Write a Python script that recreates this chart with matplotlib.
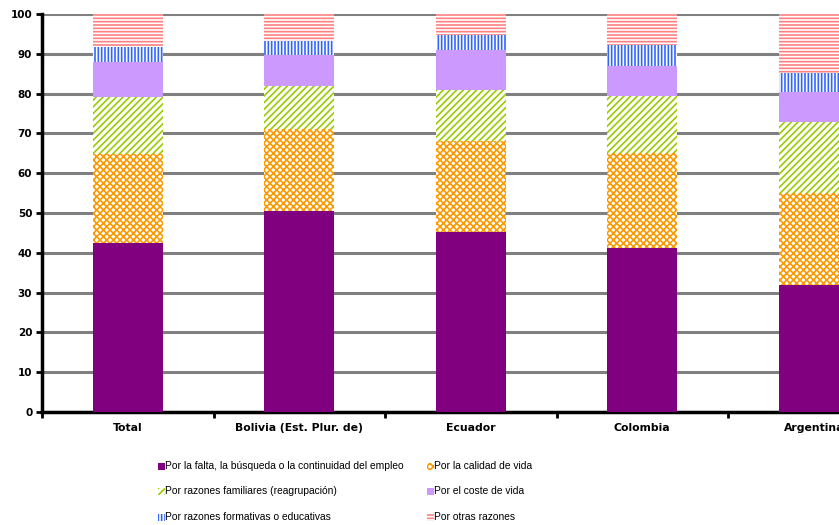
import matplotlib
matplotlib.use("Agg")
import matplotlib.pyplot as plt
from matplotlib.patches import Rectangle
import numpy as np

categories = ["Total", "Bolivia (Est. Plur. de)", "Ecuador", "Colombia", "Argentina"]
series_names = [
    "Por la falta, la búsqueda o la continuidad del empleo",
    "Por la calidad de vida",
    "Por razones familiares (reagrupación)",
    "Por el coste de vida",
    "Por razones formativas o educativas",
    "Por otras razones",
]
empleo = [42.5, 50.5, 45.2, 41.2, 31.9]
calidad = [22.3, 20.6, 22.9, 23.9, 23.1]
familiares = [14.3, 10.8, 12.8, 14.3, 17.9]
coste = [8.8, 7.8, 10.0, 7.5, 7.5]
formativas = [3.8, 3.5, 3.8, 5.3, 4.8]
otras = [8.3, 6.8, 5.3, 7.8, 14.8]
values = [empleo, calidad, familiares, coste, formativas, otras]
y_ticks = [0, 10, 20, 30, 40, 50, 60, 70, 80, 90, 100]

colors = ["#800080", "#FF9900", "#99CC00", "#CC99FF", "#3366FF", "#FF8080"]
hatches = [None, "xxxxx", "/////", None, "|||||", "-----"]

plt.rcParams["hatch.linewidth"] = 1.2

fig = plt.figure(figsize=(8.39, 5.25), dpi=100)
ax = fig.add_axes([42 / 839, 1 - 412 / 525, (899.5 - 42) / 839, (412 - 14) / 525])

x = np.arange(len(categories))
bottom = np.zeros(len(categories))
for vals, c, h in zip(values, colors, hatches):
    if h is None:
        ax.bar(x, vals, 0.41, bottom=bottom, color=c, edgecolor="none", zorder=3)
    else:
        ax.bar(x, vals, 0.41, bottom=bottom, facecolor="white", edgecolor=c,
               hatch=h, linewidth=0, zorder=3)
    bottom += np.array(vals)

ax.set_xlim(-0.5, len(categories) - 0.5)
ax.set_ylim(0, 100)
ax.set_yticks(y_ticks)
ax.set_yticklabels([str(t) for t in y_ticks], fontsize=7.5, fontweight="bold")
ax.yaxis.grid(True, color="#808080", linewidth=2.2, zorder=0)
ax.set_axisbelow(True)
ax.set_xticks(x)
ax.set_xticklabels(categories, fontsize=7.8, fontweight="bold")
ax.set_xticks(np.arange(len(categories)) - 0.5, minor=True)
ax.tick_params(axis="x", which="major", length=0, pad=8)
ax.tick_params(axis="x", which="minor", length=4, width=2, direction="out")
ax.tick_params(axis="y", length=4, width=2, direction="out", pad=3)
for s in ["top", "right"]:
    ax.spines[s].set_visible(False)
ax.spines["left"].set_linewidth(2.5)
ax.spines["bottom"].set_linewidth(2.5)

# Legend (manual, two columns)
legend_pos = [(158, 466), (427, 466), (158, 491), (427, 491), (158, 517), (427, 517)]
for (px, py), name, c, h in zip(legend_pos, series_names, colors, hatches):
    sz = 7
    if h is None:
        r = Rectangle((px / 839, 1 - (py + 3.5) / 525), sz / 839, sz / 525,
                      transform=fig.transFigure, facecolor=c, edgecolor="none")
    else:
        r = Rectangle((px / 839, 1 - (py + 3.5) / 525), sz / 839, sz / 525,
                      transform=fig.transFigure, facecolor="white", edgecolor=c,
                      hatch=h, linewidth=0)
    fig.patches.append(r)
    fig.text((px + 7) / 839, 1 - py / 525, name, fontsize=7.4,
             family=["Liberation Sans Narrow", "Liberation Sans", "DejaVu Sans"],
             va="center", ha="left")

fig.savefig("out.png", dpi=100)
